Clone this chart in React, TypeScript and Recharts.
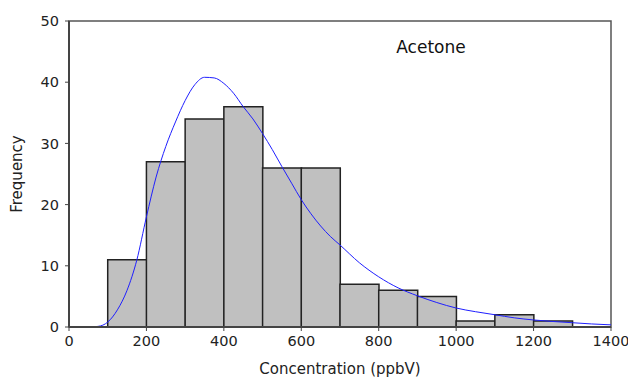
import React from "react";
import {
  ComposedChart,
  Bar,
  Line,
  XAxis,
  YAxis,
  ReferenceArea,
  Label,
} from "recharts";

// histogram bins (100 ppbV wide) and counts
const binLabels = [
  "0-100", "100-200", "200-300", "300-400", "400-500", "500-600", "600-700",
  "700-800", "800-900", "900-1000", "1000-1100", "1100-1200", "1200-1300", "1300-1400",
];
const binCounts = [0, 11, 27, 34, 36, 26, 26, 7, 6, 5, 1, 2, 1, 0];

// fitted distribution curve
const curveX = [
  0, 25, 50, 75, 100, 125, 150, 175, 200, 225, 250, 275, 300, 325, 350, 375,
  400, 425, 450, 475, 500, 525, 550, 575, 600, 625, 650, 675, 700, 750, 800,
  850, 900, 950, 1000, 1050, 1100, 1150, 1200, 1250, 1300, 1350, 1400,
];
const curveY = [
  0, 0, 0, 0.1, 0.8, 2.8, 6, 10.9, 18, 24.5, 29.5, 33.5, 37, 39.6, 40.8, 40.7,
  39.8, 38.2, 36, 34, 31.6, 29, 26.2, 23.5, 20.8, 18.5, 16.5, 14.8, 13.4, 10.5, 8.2,
  6.4, 5.1, 4, 3.1, 2.5, 2, 1.5, 1.15, 0.9, 0.7, 0.5, 0.35,
];

const xTicks = [0, 200, 400, 600, 800, 1000, 1200, 1400];
const yTicks = [0, 10, 20, 30, 40, 50];

const bins = binLabels.map((bin, i) => ({ bin, count: binCounts[i] }));
const curve = curveX.map((x, i) => ({ x, y: curveY[i] }));

const font = "'DejaVu Sans', Verdana, sans-serif";
const tickStyle = { fontSize: 14.5, fill: "#222", fontFamily: font };

export default function App() {
  return (
    <div style={{ position: "absolute", left: 0, top: 0, width: 628, height: 377, background: "#fff" }}>
      <ComposedChart
        width={628}
        height={377}
        data={bins}
        margin={{ top: 21, right: 17, bottom: 0, left: 0 }}
        barCategoryGap={0}
      >
        <XAxis xAxisId="bins" dataKey="bin" type="category" orientation="top" height={0} hide />
        <XAxis
          xAxisId="conc"
          dataKey="x"
          type="number"
          domain={[0, 1400]}
          ticks={xTicks}
          height={50}
          tick={tickStyle}
          tickSize={4}
          tickMargin={5}
          stroke="#444"
          axisLine={{ stroke: "#444", strokeWidth: 2 }}
        >
          <Label
            value="Concentration (ppbV)"
            position="insideBottom"
            offset={3}
            style={{ fontSize: 15, fill: "#222", fontFamily: font }}
          />
        </XAxis>
        <YAxis
          domain={[0, 50]}
          ticks={yTicks}
          width={69}
          tick={tickStyle}
          tickSize={4}
          tickMargin={6}
          stroke="#444"
          axisLine={{ stroke: "#444", strokeWidth: 2 }}
        >
          <Label
            value="Frequency"
            angle={-90}
            position="insideLeft"
            offset={0}
            dx={17}
            style={{ fontSize: 15, fill: "#222", fontFamily: font, textAnchor: "middle" }}
          />
        </YAxis>
        <ReferenceArea
          xAxisId="conc"
          x1={0}
          x2={1400}
          y1={0}
          y2={50}
          fill="none"
          stroke="#555"
          strokeWidth={1.5}
        />
        <Bar
          xAxisId="bins"
          dataKey="count"
          fill="#c0c0c0"
          stroke="#222"
          strokeWidth={1.5}
          isAnimationActive={false}
        />
        <Line
          xAxisId="conc"
          data={curve}
          dataKey="y"
          type="monotone"
          stroke="#1f1fff"
          strokeWidth={1}
          dot={false}
          activeDot={false}
          isAnimationActive={false}
        />
      </ComposedChart>
      <svg
        width={628}
        height={377}
        style={{ position: "absolute", left: 0, top: 0, pointerEvents: "none" }}
      >
        <text x={431} y={53} textAnchor="middle" fontSize={17} fill="#111" fontFamily={font}>
          Acetone
        </text>
      </svg>
    </div>
  );
}
